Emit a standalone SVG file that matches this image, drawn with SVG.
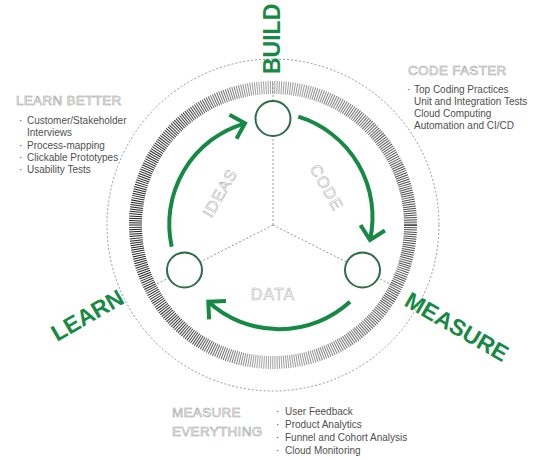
<svg xmlns="http://www.w3.org/2000/svg" width="543" height="460" viewBox="0 0 543 460">
  <style>
    .phase { font-family: "Liberation Sans", Arial, sans-serif; font-weight: bold; font-size: 23px; fill: #168a45; }
    .hollow { font-family: "Liberation Sans", Arial, sans-serif; fill: #ffffff; stroke: #9c9c9c; stroke-width: 0.55; }
    .inner { font-size: 16px; letter-spacing: 1px; text-anchor: middle; stroke: #b0b0b0; }
    .head { font-size: 13.5px; letter-spacing: 0.3px; }
    .item { font-family: "Liberation Sans", Arial, sans-serif; font-size: 10px; fill: #4f4f4f; }
    .dash { fill: none; stroke: #8a8a8a; stroke-width: 0.9; stroke-dasharray: 2 2; }
    .flow { fill: none; stroke: #168a45; stroke-width: 4; marker-end: url(#chevron); }
    .node { fill: #ffffff; stroke: #2f6d48; stroke-width: 2; }
  </style>
  <defs>
    <marker id="chevron" markerUnits="userSpaceOnUse" orient="auto" refX="0" refY="0" markerWidth="40" markerHeight="40" overflow="visible">
      <path d="M-12.5,-12.5 L0,0 L-12.5,12.5" fill="none" stroke="#168a45" stroke-width="4" stroke-linejoin="miter"/>
    </marker>
    <linearGradient id="ringShade" gradientUnits="userSpaceOnUse" x1="128" y1="0" x2="418" y2="0">
      <stop offset="0" stop-color="#1e1e1e"/>
      <stop offset="0.2" stop-color="#3c3c3c"/>
      <stop offset="0.45" stop-color="#a2a2a2"/>
      <stop offset="0.6" stop-color="#989898"/>
      <stop offset="0.85" stop-color="#5e5e5e"/>
      <stop offset="1" stop-color="#454545"/>
    </linearGradient>
  </defs>

  <rect width="543" height="460" fill="#ffffff"/>

  <!-- outer dashed orbit -->
  <circle class="dash" cx="273" cy="225" r="166"/>

  <!-- hatched ring -->
  <circle cx="273" cy="225" r="137.5" fill="none" stroke="url(#ringShade)" stroke-width="13" stroke-dasharray="1 1.2"/>

  <!-- radial dashed spokes -->
  <g id="spokes">
    <line class="dash" x1="273" y1="225" x2="273" y2="83"/>
    <line class="dash" x1="273" y1="225" x2="146.5" y2="289.2"/>
    <line class="dash" x1="273" y1="225" x2="400" y2="289"/>
  </g>

  <!-- inner phase labels -->
  <g id="inner-labels">
    <text class="hollow inner" transform="translate(220,193) rotate(-60)" y="5.5">IDEAS</text>
    <text class="hollow inner" transform="translate(326.5,187.5) rotate(60)" y="5.5">CODE</text>
    <text class="hollow inner" x="273" y="299.5">DATA</text>
  </g>

  <!-- cycle arrows -->
  <g id="connectors">
    <path class="flow" d="M171.7,246.7 A105 105 0 0 1 245,123.3"/>
    <path class="flow" d="M298.3,116.7 A105 105 0 0 1 370,240"/>
    <path class="flow" d="M350,301.7 A105 105 0 0 1 208.3,301.7"/>
  </g>

  <!-- stage nodes -->
  <g id="node-build">
    <circle class="node" cx="273" cy="118.5" r="17.5"/>
    <text class="phase" transform="translate(280,74) rotate(-90)">BUILD</text>
  </g>
  <g id="node-learn">
    <circle class="node" cx="184.5" cy="270" r="17.5"/>
    <text class="phase" transform="translate(57,342) rotate(-30)">LEARN</text>
  </g>
  <g id="node-measure">
    <circle class="node" cx="362.5" cy="270" r="17.5"/>
    <text class="phase" transform="translate(403,305) rotate(30)">MEASURE</text>
  </g>

  <!-- learn better notes -->
  <g id="notes-learn">
    <text class="hollow head" x="16" y="105">LEARN BETTER</text>
    <text class="item" x="19" y="124">·</text>
    <text class="item" x="27" y="124">Customer/Stakeholder</text>
    <text class="item" x="27" y="136">Interviews</text>
    <text class="item" x="19" y="149">·</text>
    <text class="item" x="27" y="149">Process-mapping</text>
    <text class="item" x="19" y="161">·</text>
    <text class="item" x="27" y="161">Clickable Prototypes</text>
    <text class="item" x="19" y="173">·</text>
    <text class="item" x="27" y="173">Usability Tests</text>
  </g>

  <!-- code faster notes -->
  <g id="notes-code">
    <text class="hollow head" x="408" y="75">CODE FASTER</text>
    <text class="item" x="407" y="93">·</text>
    <text class="item" x="414" y="93">Top Coding Practices</text>
    <text class="item" x="414" y="105">Unit and Integration Tests</text>
    <text class="item" x="414" y="117">Cloud Computing</text>
    <text class="item" x="414" y="129">Automation and CI/CD</text>
  </g>

  <!-- measure everything notes -->
  <g id="notes-measure">
    <text class="hollow head" x="172" y="417">MEASURE</text>
    <text class="hollow head" x="172" y="436">EVERYTHING</text>
    <text class="item" x="276" y="415">·</text>
    <text class="item" x="285" y="415">User Feedback</text>
    <text class="item" x="276" y="428">·</text>
    <text class="item" x="285" y="428">Product Analytics</text>
    <text class="item" x="276" y="441">·</text>
    <text class="item" x="285" y="441">Funnel and Cohort Analysis</text>
    <text class="item" x="276" y="454">·</text>
    <text class="item" x="285" y="454">Cloud Monitoring</text>
  </g>
</svg>
